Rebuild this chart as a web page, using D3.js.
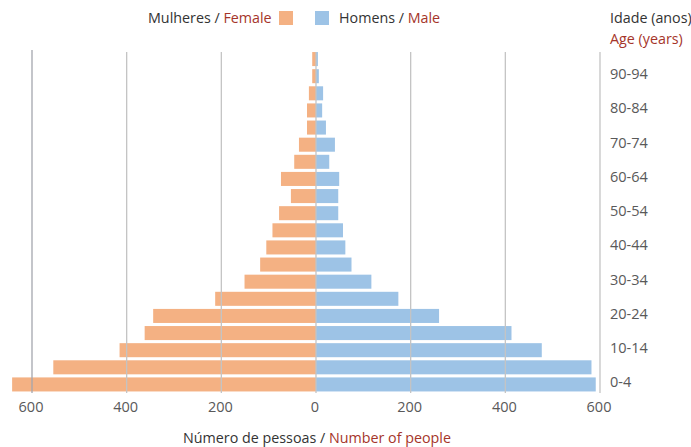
<!DOCTYPE html>
<html>
<head>
<meta charset="utf-8">
<script src="https://cdn.jsdelivr.net/npm/d3@7"></script>
<style>
  body { margin: 0; background: #fff; }
  text { font-family: "Open Sans", sans-serif; }
</style>
</head>
<body>
<div id="chart"></div>
<script>
// age groups, bottom to top
var ageGroups = ["0-4","5-9","10-14","15-19","20-24","25-29","30-34","35-39","40-44","45-49",
  "50-54","55-59","60-64","65-69","70-74","75-79","80-84","85-89","90-94","95-99"];
var female = [642, 555, 415, 362, 344, 213, 151, 118, 105, 92, 78, 53, 74, 46, 36, 19, 19, 15, 8, 8];
var male   = [591, 582, 477, 413, 260, 174, 117, 75, 62, 57, 47, 47, 49, 28, 40, 21, 13, 15, 6, 4];
var ageLabels = ["0-4","10-14","20-24","30-34","40-44","50-54","60-64","70-74","80-84","90-94"];
var xTicks = [-600, -400, -200, 0, 200, 400, 600];

var chart = {};
chart.w = 691;
chart.h = 447;
chart.female = "#f4b183";
chart.male = "#9dc3e6";
chart.red = "#a5352a";
chart.dark = "#333333";
chart.gray = "#595959";

chart.svg = d3.select("#chart")
  .append("svg")
  .attr("width", chart.w)
  .attr("height", chart.h);

chart.x = d3.scaleLinear()
  .domain([-600, 600])
  .range([32, 600]);

chart.y = d3.scaleBand()
  .domain(ageGroups.slice().reverse())
  .range([50.5, 393])
  .paddingInner(0.18)
  .paddingOuter(0.09);

var rows = ageGroups.map(function(a, i) {
  return { age: a, f: female[i], m: male[i] };
});

// bars
chart.svg.append("g")
  .selectAll("rect.f")
  .data(rows)
  .enter().append("rect")
    .attr("x", function(d) { return chart.x(-d.f); })
    .attr("y", function(d) { return chart.y(d.age); })
    .attr("width", function(d) { return chart.x(0) - chart.x(-d.f); })
    .attr("height", chart.y.bandwidth())
    .style("fill", chart.female);

chart.svg.append("g")
  .selectAll("rect.m")
  .data(rows)
  .enter().append("rect")
    .attr("x", chart.x(0))
    .attr("y", function(d) { return chart.y(d.age); })
    .attr("width", function(d) { return chart.x(d.m) - chart.x(0); })
    .attr("height", chart.y.bandwidth())
    .style("fill", chart.male);

// grid lines over the bars
chart.svg.append("g")
  .selectAll("line")
  .data(xTicks)
  .enter().append("line")
    .attr("x1", function(d) { return chart.x(d); })
    .attr("x2", function(d) { return chart.x(d); })
    .attr("y1", function(d) { return d === -600 ? 50 : 52; })
    .attr("y2", 393)
    .style("stroke", function(d) { return d === -600 ? "#a4a6ae" : "#c4c4c4"; })
    .style("stroke-width", 1.3);

// x tick labels
chart.svg.append("g")
  .selectAll("text")
  .data(xTicks)
  .enter().append("text")
    .attr("x", function(d) { return chart.x(d) - 1; })
    .attr("y", 412)
    .attr("text-anchor", "middle")
    .style("font-size", "14.5px")
    .style("fill", chart.gray)
    .text(function(d) { return Math.abs(d); });

// age labels
chart.svg.append("g")
  .selectAll("text")
  .data(ageLabels)
  .enter().append("text")
    .attr("x", 610)
    .attr("y", function(d) { return chart.y(d) + chart.y.bandwidth() / 2 + 3; })
    .style("font-size", "14.5px")
    .style("fill", chart.gray)
    .text(function(d) { return d; });

// legend
var lg = chart.svg.append("g").style("font-size", "14.3px");
var t1 = lg.append("text").attr("x", 148).attr("y", 23);
t1.append("tspan").style("fill", chart.dark).text("Mulheres / ");
t1.append("tspan").style("fill", chart.red).text("Female");
lg.append("rect").attr("x", 279).attr("y", 11).attr("width", 14).attr("height", 14).style("fill", chart.female);
lg.append("rect").attr("x", 315).attr("y", 11).attr("width", 14).attr("height", 14).style("fill", chart.male);
var t2 = lg.append("text").attr("x", 339).attr("y", 23);
t2.append("tspan").style("fill", chart.dark).text("Homens / ");
t2.append("tspan").style("fill", chart.red).text("Male");

chart.svg.append("text")
  .attr("x", 610).attr("y", 23)
  .style("font-size", "14.3px").style("fill", chart.dark)
  .text("Idade (anos)");
chart.svg.append("text")
  .attr("x", 610).attr("y", 44)
  .style("font-size", "14.3px").style("fill", chart.red)
  .text("Age (years)");

// x axis title
var t3 = chart.svg.append("text")
  .attr("x", 317).attr("y", 443)
  .attr("text-anchor", "middle")
  .style("font-size", "14.3px");
t3.append("tspan").style("fill", chart.dark).text("Número de pessoas / ");
t3.append("tspan").style("fill", chart.red).text("Number of people");
</script>
</body>
</html>
